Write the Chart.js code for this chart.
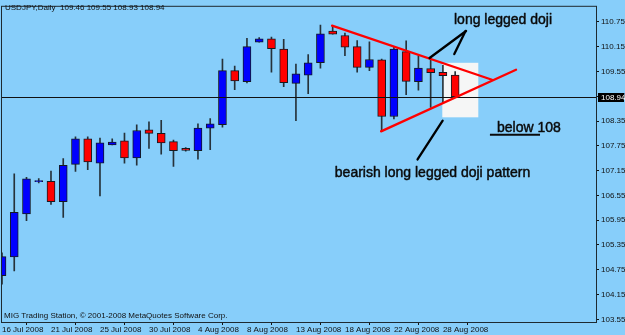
<!DOCTYPE html>
<html>
<head>
<meta charset="utf-8">
<title>USDJPY Daily</title>
<script src="https://cdn.jsdelivr.net/npm/chart.js@4.4.1/dist/chart.umd.min.js"></script>
<style>
    html, body { margin: 0; padding: 0; background: #87CEFA; }
    #chart { display: block; }
</style>
</head>
<body>
<canvas id="chart" width="625" height="335"></canvas>
<script>
// Daily bars, 16 Jul 2008 - 29 Aug 2008 (Sunday bars included like the broker feed)
const dates = [
    '16 Jul 2008', '17 Jul 2008', '18 Jul 2008', '20 Jul 2008', '21 Jul 2008', '22 Jul 2008',
    '23 Jul 2008', '24 Jul 2008', '25 Jul 2008', '27 Jul 2008', '28 Jul 2008', '29 Jul 2008',
    '30 Jul 2008', '31 Jul 2008', '1 Aug 2008', '3 Aug 2008', '4 Aug 2008', '5 Aug 2008',
    '6 Aug 2008', '7 Aug 2008', '8 Aug 2008', '10 Aug 2008', '11 Aug 2008', '12 Aug 2008',
    '13 Aug 2008', '14 Aug 2008', '15 Aug 2008', '17 Aug 2008', '18 Aug 2008', '19 Aug 2008',
    '20 Aug 2008', '21 Aug 2008', '22 Aug 2008', '25 Aug 2008', '26 Aug 2008', '27 Aug 2008',
    '28 Aug 2008', '29 Aug 2008'
];
const opens = [
    104.61, 105.06, 106.10, 106.88, 106.89, 106.40, 107.30, 107.92, 107.33, 107.77,
    107.87, 107.46, 108.14, 108.05, 107.85, 107.69, 107.63, 108.18, 108.26, 109.57,
    109.30, 110.26, 110.34, 110.09, 109.26, 109.46, 109.76, 110.53, 110.42, 110.15,
    109.65, 109.83, 108.46, 110.03, 109.30, 109.62, 109.53, 109.46
];
const highs = [
    105.16, 107.07, 106.99, 106.96, 107.14, 107.44, 107.97, 107.97, 107.94, 107.92,
    108.06, 108.26, 108.33, 108.37, 107.89, 107.71, 108.28, 108.41, 109.85, 109.68,
    110.35, 110.37, 110.38, 110.33, 109.73, 109.96, 110.67, 110.64, 110.48, 110.30,
    110.27, 109.85, 110.14, 110.29, 109.93, 109.85, 109.70, 109.55
];
const lows = [
    104.40, 104.72, 105.94, 106.85, 106.33, 106.02, 107.13, 107.17, 106.54, 107.77,
    107.33, 107.28, 107.69, 107.55, 107.25, 107.62, 107.43, 107.66, 108.20, 109.11,
    109.27, 110.26, 109.53, 109.18, 108.36, 109.01, 109.63, 110.45, 109.93, 109.53,
    109.57, 108.10, 108.40, 108.99, 109.10, 108.68, 108.78, 108.93
];
const closes = [
    105.07, 106.14, 106.95, 106.91, 106.40, 107.28, 107.92, 107.36, 107.82, 107.84,
    107.46, 108.12, 108.05, 107.82, 107.63, 107.64, 108.18, 108.28, 109.57, 109.32,
    110.15, 110.34, 110.10, 109.28, 109.49, 109.76, 110.46, 110.45, 110.14, 109.65,
    109.84, 108.46, 110.09, 109.31, 109.63, 109.52, 109.45, 108.94
];
const xTickIndexes = [0, 4, 8, 12, 16, 20, 24, 28, 32, 36];
const yTickValues = [103.55, 104.15, 104.75, 105.35, 105.95, 106.55, 107.15, 107.75, 108.35, 108.95, 109.55, 110.15, 110.75];

(function() {
    'use strict';

    const BG = '#87CEFA';
    const INK = '#111111';
    const AXIS_FONT = { family: '"Liberation Sans Narrow", "Liberation Sans", Arial, sans-serif', size: 8 };
    const NOTE_FONT = '14px "Liberation Sans", Arial, sans-serif';

    // hand-drawn markup, in bar index / price units
    const annotations = {
        box: { x0: 35.95, x1: 38.89, p0: 109.76, p1: 108.44, color: '#f5f6f6' },
        redLines: [
            [26.95, 110.66, 40.01, 109.35],
            [30.95, 108.10, 41.97, 109.59]
        ],
        blackLines: [
            [34.91, 109.875, 37.89, 110.53],
            [36.93, 109.97, 37.85, 110.53],
            [33.93, 107.42, 35.98, 108.36]
        ],
        texts: [
            { text: 'long legged doji', x: 40.91, p: 110.80, align: 'center' },
            { text: 'bearish long legged doji pattern', x: 35.15, p: 107.09, align: 'center' },
            { text: 'below 108', x: 40.42, p: 108.18, align: 'left' }
        ],
        underline: [39.84, 43.93, 108.02]
    };

    const bodies = opens.map((o, i) => ({ x: i, y: [o, closes[i]] }));
    const wicks = lows.map((l, i) => ({ x: i, y: [l, highs[i]] }));
    const bodyColors = opens.map((o, i) => closes[i] > o ? '#0000ff' : '#ff0000');

    /**
     * Background, frame, bid line and the text/line markup on the chart
     */
    const chartDecor = {
        id: 'chartDecor',
        beforeDraw(chart) {
            const c = chart.ctx;
            c.save();
            c.fillStyle = BG;
            c.fillRect(0, 0, chart.width, chart.height);
            c.restore();
        },
        beforeDatasetsDraw(chart) {
            const c = chart.ctx;
            const xs = chart.scales.x, ys = chart.scales.y;
            const b = annotations.box;
            const left = xs.getPixelForValue(b.x0), right = xs.getPixelForValue(b.x1);
            const top = ys.getPixelForValue(b.p0), bottom = ys.getPixelForValue(b.p1);
            c.save();
            c.fillStyle = b.color;
            c.fillRect(left, top, right - left, bottom - top);
            c.restore();
        },
        afterDatasetsDraw(chart) {
            const c = chart.ctx;
            const area = chart.chartArea;
            const xs = chart.scales.x, ys = chart.scales.y;
            const last = closes[closes.length - 1];
            const bidY = Math.round(ys.getPixelForValue(last)) + 0.5;

            c.save();
            // bid line
            c.strokeStyle = INK;
            c.lineWidth = 1;
            c.beginPath();
            c.moveTo(area.left, bidY);
            c.lineTo(area.right, bidY);
            c.stroke();

            // frame
            c.strokeStyle = '#1e2a30';
            c.strokeRect(area.left - 0.5, area.top - 0.5, area.right - area.left + 1, area.bottom - area.top + 1);

            // trend lines and pointers
            c.lineCap = 'round';
            c.lineWidth = 2.3;
            c.strokeStyle = '#ff0000';
            annotations.redLines.forEach(l => {
                c.beginPath();
                c.moveTo(xs.getPixelForValue(l[0]), ys.getPixelForValue(l[1]));
                c.lineTo(xs.getPixelForValue(l[2]), ys.getPixelForValue(l[3]));
                c.stroke();
            });
            c.strokeStyle = '#000000';
            annotations.blackLines.forEach(l => {
                c.beginPath();
                c.moveTo(xs.getPixelForValue(l[0]), ys.getPixelForValue(l[1]));
                c.lineTo(xs.getPixelForValue(l[2]), ys.getPixelForValue(l[3]));
                c.stroke();
            });

            // notes, slightly heavier than the plain face
            c.font = NOTE_FONT;
            c.fillStyle = '#0a0a0a';
            c.strokeStyle = '#0a0a0a';
            c.lineWidth = 0.45;
            c.lineJoin = 'round';
            c.textBaseline = 'middle';
            annotations.texts.forEach(t => {
                const tx = xs.getPixelForValue(t.x), ty = ys.getPixelForValue(t.p);
                c.textAlign = t.align;
                c.fillText(t.text, tx, ty);
                c.strokeText(t.text, tx, ty);
            });
            const u = annotations.underline;
            c.lineWidth = 2;
            c.lineCap = 'butt';
            c.beginPath();
            c.moveTo(xs.getPixelForValue(u[0]), ys.getPixelForValue(u[2]));
            c.lineTo(xs.getPixelForValue(u[1]), ys.getPixelForValue(u[2]));
            c.stroke();
            c.restore();
        },
        afterDraw(chart) {
            const c = chart.ctx;
            const area = chart.chartArea;
            const ys = chart.scales.y;
            const last = closes[closes.length - 1];
            const bidY = Math.round(ys.getPixelForValue(last));

            c.save();
            c.font = AXIS_FONT.size + 'px ' + AXIS_FONT.family;
            c.textBaseline = 'middle';

            // price tag on the axis
            c.fillStyle = '#000000';
            c.fillRect(area.right + 2, bidY - 4, 26, 9);
            c.fillStyle = '#ffffff';
            c.textAlign = 'left';
            c.fillText(last.toFixed(2), area.right + 5, bidY + 0.5);

            // header and footer
            c.fillStyle = INK;
            c.fillText('USDJPY,Daily  ' + [opens, highs, lows, closes].map(a => a[a.length - 1].toFixed(2)).join(' '), 5, 8);
            c.fillText('MIG Trading Station, \u00a9 2001-2008 MetaQuotes Software Corp.', 4, 316);
            c.restore();
        }
    };

    const ctx = document.getElementById('chart').getContext('2d');
    new Chart(ctx, {
        type: 'bar',
        data: {
            datasets: [{
                label: 'Body',
                data: bodies,
                backgroundColor: bodyColors,
                borderColor: '#151a22',
                borderWidth: 1,
                borderSkipped: false,
                barThickness: 8,
                grouped: false,
                order: 0
            }, {
                label: 'Wick',
                data: wicks,
                backgroundColor: '#26323a',
                borderWidth: 0,
                barThickness: 1,
                grouped: false,
                order: 1
            }]
        },
        options: {
            responsive: false,
            animation: false,
            layout: { padding: { left: 2, top: 2, right: 0, bottom: 0 } },
            plugins: {
                legend: { display: false },
                tooltip: { enabled: false }
            },
            scales: {
                x: {
                    type: 'linear',
                    min: 0,
                    max: 48.5,
                    offset: false,
                    border: { display: false },
                    grid: { drawOnChartArea: false, drawTicks: true, tickLength: 3, color: INK },
                    afterBuildTicks: function(scale) {
                        scale.ticks = xTickIndexes.map(v => ({ value: v }));
                    },
                    afterFit: function(scale) {
                        scale.height = 13;
                    },
                    ticks: {
                        autoSkip: false,
                        maxRotation: 0,
                        align: 'start',
                        padding: 0,
                        color: INK,
                        font: AXIS_FONT,
                        callback: function(value) {
                            return dates[value];
                        }
                    }
                },
                y: {
                    position: 'right',
                    min: 103.486,
                    max: 111.115,
                    border: { display: false },
                    grid: { drawOnChartArea: false, drawTicks: true, tickLength: 3, color: INK },
                    afterBuildTicks: function(scale) {
                        scale.ticks = yTickValues.map(v => ({ value: v }));
                    },
                    afterFit: function(scale) {
                        scale.width = 29;
                    },
                    ticks: {
                        padding: 2,
                        color: INK,
                        font: AXIS_FONT,
                        callback: function(value) {
                            return value.toFixed(2);
                        }
                    }
                }
            }
        },
        plugins: [chartDecor]
    });
})();
</script>
</body>
</html>
